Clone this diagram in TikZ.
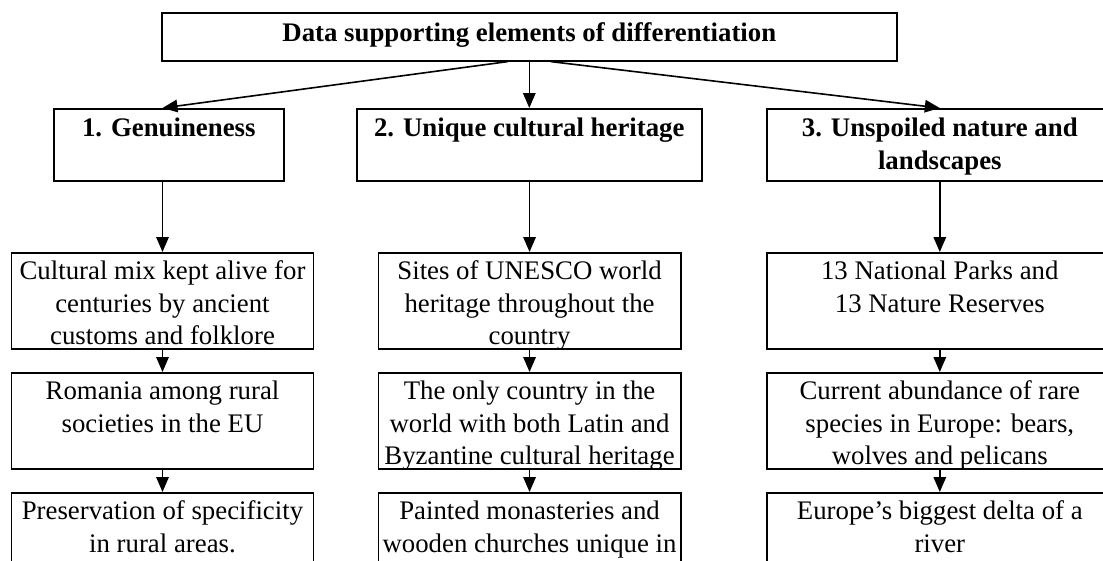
\documentclass[tikz,border=0pt]{standalone}
\usepackage{fontspec}
\setmainfont{Liberation Serif}
\usetikzlibrary{arrows.meta}
\newcommand\bxt[4]{\parbox[c][#2pt][t]{#1pt}{\vspace*{#3pt}\centering\strut #4\par}}
\begin{document}
\begin{tikzpicture}[x=1pt,y=-1pt,
  box/.style={draw, line width=1.6pt, inner sep=0pt, anchor=north west,
    font=\fontsize{26.8}{32.5}\selectfont},
  arr/.style={line width=1.6pt, -{Triangle[length=15pt,width=12.5pt]}},
]
\useasboundingbox (0,0) rectangle (1103,560);
\clip (0,0) rectangle (1103,560);

\node[box] (title) at (161,12) {\bxt{735}{48}{6}{\bfseries Data supporting elements of differentiation}};

\node[box] (b1) at (53,108) {\bxt{230}{72}{5}{\bfseries 1. Genuineness}};
\node[box] (b2) at (356,108) {\bxt{345}{72}{5}{\bfseries 2. Unique cultural heritage}};
\node[box] (b3) at (766,108) {\bxt{346}{72}{5}{\bfseries 3. Unspoiled nature and\\ landscapes}};

\node[box] (c1r1) at (10.7,252) {\bxt{302}{96}{4}{Cultural mix kept alive for\\ centuries by ancient\\ customs and folklore}};
\node[box] (c1r2) at (10.7,372) {\bxt{302}{96}{4}{Romania among rural\\ societies in the EU}};
\node[box] (c1r3) at (10.7,492) {\bxt{302}{96}{4}{Preservation of specificity\\ in rural areas.}};

\node[box] (c2r1) at (377.5,252) {\bxt{302.5}{96}{4}{Sites of UNESCO world\\ heritage throughout the\\ country}};
\node[box] (c2r2) at (377.5,372) {\bxt{302.5}{96}{4}{The only country in the\\ world with both Latin and\\ Byzantine cultural heritage}};
\node[box] (c2r3) at (377.5,492) {\bxt{302.5}{96}{4}{Painted monasteries and\\ wooden churches unique in}};

\node[box] (c3r1) at (766,252) {\bxt{346}{96}{4}{13 National Parks and\\ 13 Nature Reserves}};
\node[box] (c3r2) at (766,372) {\bxt{346}{96}{4}{Current abundance of rare\\ species in Europe: bears,\\ wolves and pelicans}};
\node[box] (c3r3) at (766,492) {\bxt{346}{96}{4}{Europe’s biggest delta of a\\ river}};

\draw[arr] ([xshift=-21.5pt]title.south) -- (c1r1.north |- b1.north);
\draw[arr] (title.south) -- (b2.north);
\draw[arr] ([xshift=21.5pt]title.south) -- (c3r1.north |- b3.north);

\draw[arr] (c1r1.north |- b1.south) -- (c1r1.north);
\draw[arr] (c2r1.north |- b2.south) -- (c2r1.north);
\draw[arr] (c3r1.north |- b3.south) -- (c3r1.north);

\draw[arr] (c1r1.south) -- (c1r2.north);
\draw[arr] (c1r2.south) -- (c1r3.north);
\draw[arr] (c2r1.south) -- (c2r2.north);
\draw[arr] (c2r2.south) -- (c2r3.north);
\draw[arr] (c3r1.south) -- (c3r2.north);
\draw[arr] (c3r2.south) -- (c3r3.north);
\end{tikzpicture}
\end{document}
